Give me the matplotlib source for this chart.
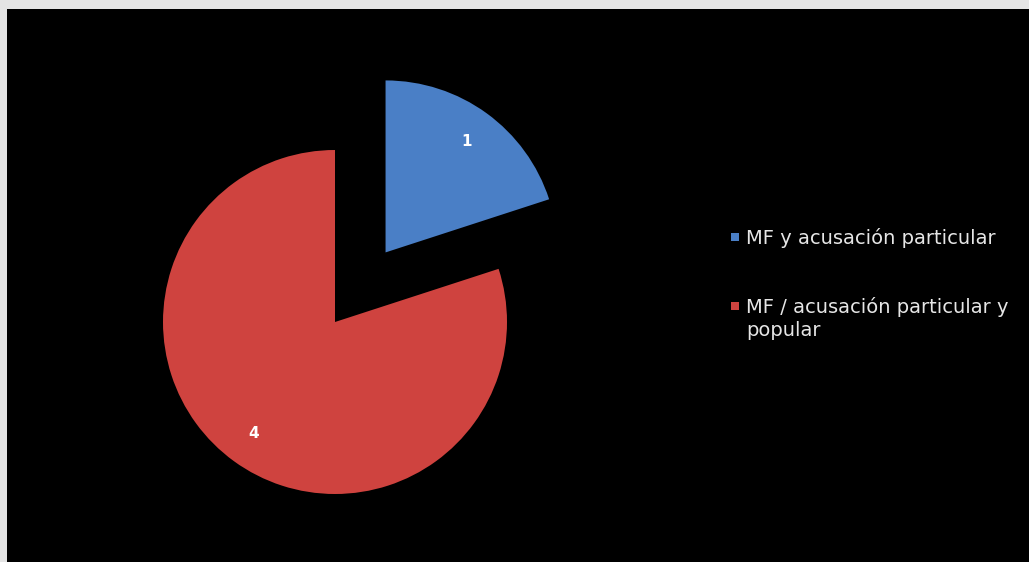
import matplotlib
matplotlib.use("Agg")
import matplotlib.pyplot as plt
from matplotlib.patches import Rectangle

# data
categories = ["MF y acusación particular", "MF / acusación particular y\npopular"]
values = [1, 4]
colors = ["#4a7fc6", "#cf433f"]

W, H = 1029, 562
R = 172
explode = [0.5 * R, 0.0]  # pie() takes explode in data units

fig = plt.figure(figsize=(W / 100, H / 100), dpi=100, facecolor="#e4e4e4")

# black plot area, grey frame only on top and left
ax = fig.add_axes([0, 0, 1, 1])
ax.add_patch(Rectangle((7, 0), W - 7, H - 9, facecolor="black", edgecolor="none", zorder=0))

wedges, texts, autotexts = ax.pie(
    values,
    colors=colors,
    explode=explode,
    startangle=90,
    counterclock=False,
    center=(335, 240),
    radius=R,
    autopct=lambda p: f"{round(p * sum(values) / 100):d}",
    pctdistance=0.8,
    textprops=dict(color="white", fontsize=11, fontweight="bold"),
    wedgeprops=dict(linewidth=0),
    frame=True,
)
ax.set_xlim(0, W)
ax.set_ylim(0, H)
ax.set_aspect("equal")
ax.axis("off")

# legend drawn by hand so the swatch sits on the first text line
leg_y = [H - 237, H - 306]
for label, color, y in zip(categories, colors, leg_y):
    ax.add_patch(Rectangle((731, y - 4), 8, 8, facecolor=color, edgecolor="none"))
    ax.text(746, y + 9, label, color="#e6e6e6", fontsize=14, va="top",
            ha="left", family="DejaVu Sans", linespacing=1.25)

fig.savefig("out.png", dpi=100, facecolor=fig.get_facecolor())
